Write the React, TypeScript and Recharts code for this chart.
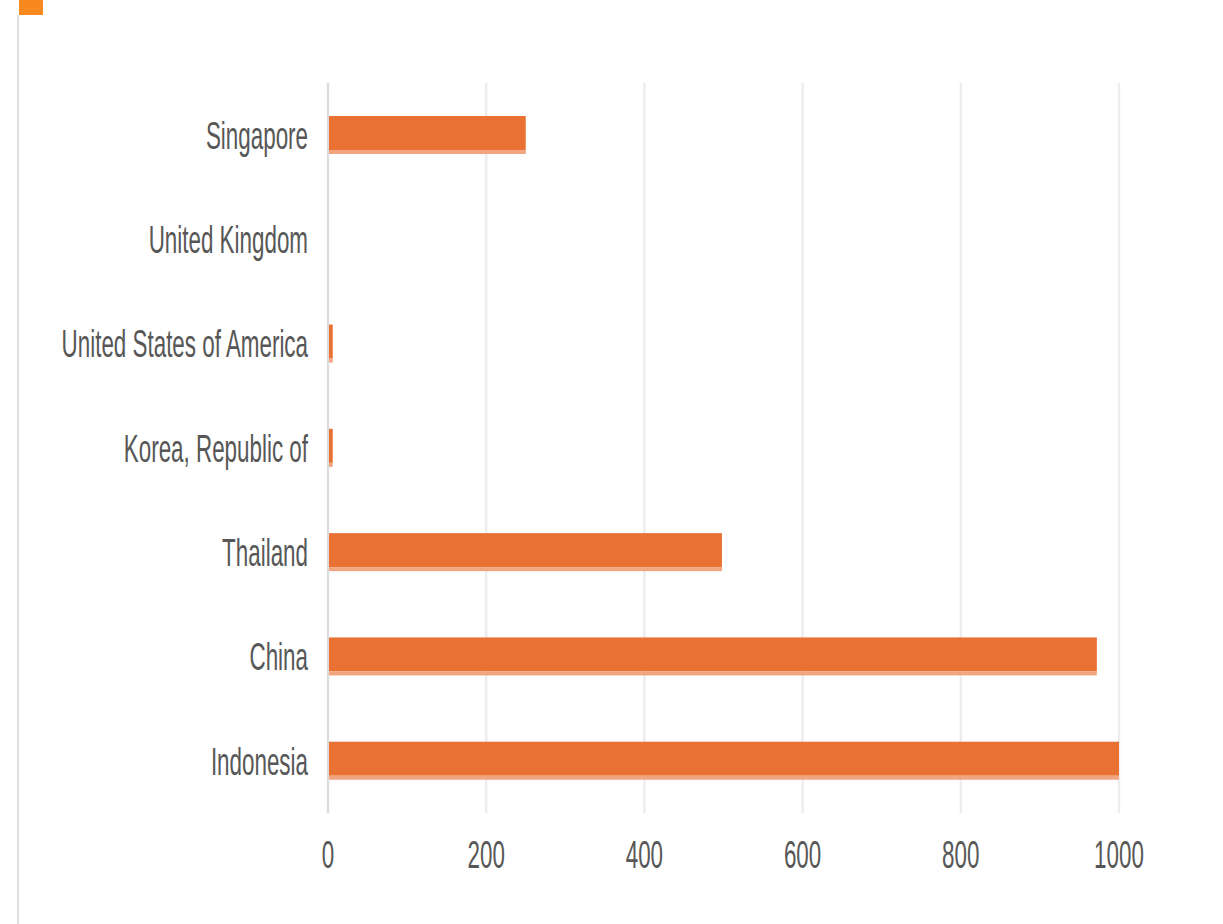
import { BarChart, Bar, XAxis, YAxis, CartesianGrid } from 'recharts';

const countries = [
  'Singapore',
  'United Kingdom',
  'United States of America',
  'Korea, Republic of',
  'Thailand',
  'China',
  'Indonesia',
];
const counts = [250, 0, 6, 6, 498, 972, 1000];
const xTicks = [0, 200, 400, 600, 800, 1000];

const data = countries.map((name, i) => ({ name, count: counts[i] }));

const BAR = '#E97133';
const BAR_EDGE = '#F0A47F';
const TEXT = '#575757';
const STRETCH = 1.72;

const YTick = (props: any) => {
  const { x, y, payload } = props;
  return (
    <g transform={`translate(${x},${y})`}>
      <text
        transform={`scale(1,${STRETCH})`}
        textAnchor="end"
        dy="0.355em"
        fontSize={22.4}
        fontFamily="'Liberation Sans', Arial, sans-serif"
        fill={TEXT}
      >
        {payload.value}
      </text>
    </g>
  );
};

const XTick = (props: any) => {
  const { x, y, payload } = props;
  return (
    <g transform={`translate(${x},${y})`}>
      <text
        transform={`scale(1,${STRETCH})`}
        textAnchor="middle"
        dy="0.355em"
        fontSize={22.4}
        fontFamily="'Liberation Sans', Arial, sans-serif"
        fill={TEXT}
      >
        {payload.value}
      </text>
    </g>
  );
};

const ShadedBar = (props: any) => {
  const { x, y, width, height } = props;
  if (!width || width <= 0) return null;
  const edge = 4;
  return (
    <g>
      <rect x={x} y={y} width={width} height={height - edge} fill={BAR} />
      <rect x={x} y={y + height - edge} width={width} height={edge} fill={BAR_EDGE} />
    </g>
  );
};

export default function App() {
  return (
    <div style={{ position: 'absolute', left: 0, top: 0, width: 1223, height: 924, background: '#fff' }}>
      <div style={{ position: 'absolute', left: 17, top: 15, width: 2, height: 909, background: '#dedede' }} />
      <div style={{ position: 'absolute', left: 19, top: 0, width: 24, height: 15, background: '#F7891F' }} />
      <BarChart
        width={1223}
        height={924}
        data={data}
        layout="vertical"
        margin={{ top: 83, right: 104, bottom: 81, left: 0 }}
      >
        <CartesianGrid horizontal={false} stroke="#ededed" strokeWidth={2.5} />
        <XAxis
          type="number"
          domain={[0, 1000]}
          ticks={xTicks}
          height={30}
          axisLine={false}
          tickLine={false}
          tickSize={0}
          tickMargin={41}
          tick={<XTick />}
        />
        <YAxis
          type="category"
          dataKey="name"
          width={328}
          axisLine={{ stroke: '#dcdcdc', strokeWidth: 2 }}
          tickLine={false}
          tickSize={0}
          tickMargin={20}
          tick={<YTick />}
          interval={0}
        />
        <Bar dataKey="count" barSize={38} shape={<ShadedBar />} isAnimationActive={false} />
      </BarChart>
    </div>
  );
}
